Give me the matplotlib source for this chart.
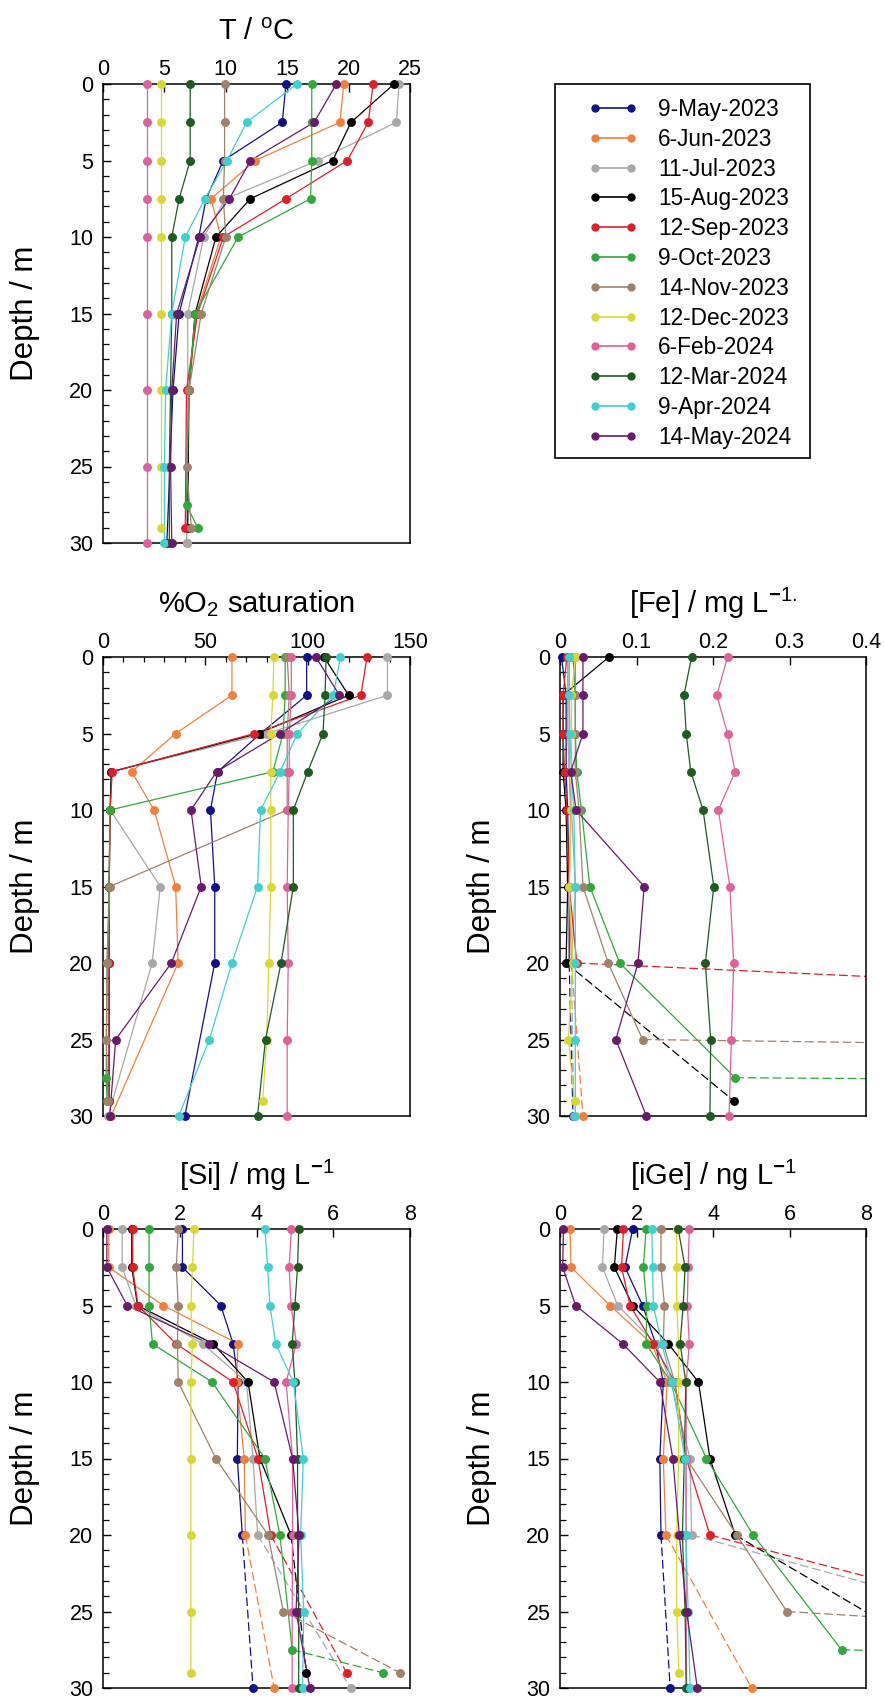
import numpy as np
import matplotlib
matplotlib.use('Agg')
import matplotlib.pyplot as plt
from matplotlib.ticker import MultipleLocator, FuncFormatter
from matplotlib.patches import Rectangle
from matplotlib.lines import Line2D

plt.rcParams['font.family'] = ['Liberation Sans', 'DejaVu Sans']
plt.rcParams['mathtext.fontset'] = 'custom'
plt.rcParams['mathtext.rm'] = 'Liberation Sans'
plt.rcParams['mathtext.it'] = 'Liberation Sans:italic'
plt.rcParams['mathtext.bf'] = 'Liberation Sans:bold'

# ---------------- data ----------------
DATES = ['9-May-2023', '6-Jun-2023', '11-Jul-2023', '15-Aug-2023', '12-Sep-2023',
         '9-Oct-2023', '14-Nov-2023', '12-Dec-2023', '6-Feb-2024', '12-Mar-2024',
         '9-Apr-2024', '14-May-2024']
COLORS = ['#10108C', '#F0803A', '#A8A8A8', '#000000', '#E01E2A', '#2EAA3A',
          '#A0826A', '#D8D830', '#E0609A', '#1E5A22', '#40D0D0', '#6A1A6A']

DEPTHS = [
    [0, 2.5, 5, 7.5, 10, 15, 20, 30],
    [0, 2.5, 5, 7.5, 10, 15, 20, 30],
    [0, 2.5, 5, 7.5, 10, 15, 20, 30],
    [0, 2.5, 5, 7.5, 10, 15, 20, 29],
    [0, 2.5, 5, 7.5, 10, 15, 20, 29],
    [0, 2.5, 5, 7.5, 10, 15, 20, 27.5, 29],
    [0, 2.5, 5, 7.5, 10, 15, 20, 25, 29],
    [0, 2.5, 5, 7.5, 10, 15, 20, 25, 29],
    [0, 2.5, 5, 7.5, 10, 15, 20, 25, 30],
    [0, 2.5, 5, 7.5, 10, 15, 20, 25, 30],
    [0, 2.5, 5, 7.5, 10, 15, 20, 25, 30],
    [0, 2.5, 5, 7.5, 10, 15, 20, 25, 30],
]

T_VALUES = [
    [14.9, 14.6, 9.8, 8.4, 7.8, 6.2, 5.7, 5.2],
    [19.6, 19.3, 12.4, 8.8, 9.6, 7.6, 7.0, 6.8],
    [24.1, 23.9, 17.5, 10.0, 8.2, 6.9, 6.9, 6.8],
    [23.7, 20.2, 18.7, 12.0, 9.2, 7.5, 7.0, 6.9],
    [22.0, 21.6, 19.9, 14.9, 9.8, 7.7, 6.8, 6.7],
    [17.0, 17.0, 17.0, 16.9, 11.0, 7.5, 7.0, 6.8, 7.7],
    [9.9, 9.9, 9.9, 9.8, 10.0, 8.0, 7.0, 6.8, 7.2],
    [4.7, 4.7, 4.7, 4.7, 4.7, 4.7, 4.7, 4.7, 4.7],
    [3.6, 3.6, 3.6, 3.6, 3.6, 3.6, 3.6, 3.6, 3.6],
    [7.1, 7.1, 7.1, 6.2, 5.6, 5.6, 5.5, 5.4, 5.4],
    [15.8, 11.7, 10.1, 8.3, 6.7, 5.6, 5.1, 5.0, 5.0],
    [19.0, 17.2, 12.0, 10.3, 7.9, 6.0, 5.6, 5.5, 5.6],
]

O2_VALUES = [
    [99.5, 99.5, 77, 56, 52.5, 54.6, 54.6, 40],
    [63, 63, 35.5, 14, 25, 35.5, 36.7, 4],
    [139, 139, 80, 4, 3.5, 28, 24, 2.5],
    [108, 120, 76, 4, 3.5, 3, 3, 3],
    [129, 126, 74, 4.5, 3.5, 3, 3, 3],
    [89, 89, 88, 83, 3.3, 3, 2, 1.6, 2.0],
    [90, 91, 90, 90, 90, 3.3, 2, 1.6, 2.4],
    [83.5, 83, 82, 82, 82, 82, 81, 80, 78],
    [92, 92, 91, 91, 90.5, 90, 90.5, 90, 90],
    [109, 108.5, 107.5, 100, 93, 93, 87, 79.4, 75.5],
    [116, 112.5, 95, 86.5, 77, 75.5, 63, 52, 37],
    [104, 115.5, 86.5, 55.5, 43, 48, 33.4, 6.2, 3.3],
]

FE_VALUES = [
    [0.002, 0.008, 0.008, 0.008, 0.010, 0.012, 0.012, 0.017],
    [0.012, 0.012, 0.012, 0.012, 0.014, 0.012, 0.015, 0.030],
    [0.010, 0.010, 0.010, 0.012, 0.015, 0.020, 0.015, 0.018],
    [0.064, 0.004, 0.004, 0.004, 0.008, 0.010, 0.008, 0.227],
    [0.009, 0.004, 0.004, 0.006, 0.009, 0.012, 0.022, 3.9],
    [0.017, 0.020, 0.020, 0.022, 0.028, 0.039, 0.078, 0.229, 5.0],
    [0.020, 0.020, 0.020, 0.020, 0.025, 0.030, 0.063, 0.108, 6.0],
    [0.020, 0.015, 0.015, 0.015, 0.015, 0.012, 0.017, 0.011, 0.019],
    [0.219, 0.205, 0.219, 0.229, 0.207, 0.222, 0.227, 0.224, 0.221],
    [0.172, 0.162, 0.165, 0.171, 0.187, 0.201, 0.190, 0.197, 0.196],
    [0.012, 0.012, 0.013, 0.015, 0.018, 0.020, 0.020, 0.020, 0.020],
    [0.030, 0.030, 0.030, 0.014, 0.021, 0.110, 0.102, 0.073, 0.113],
]

SI_VALUES = [
    [2.07, 2.07, 3.07, 3.39, 3.52, 3.50, 3.63, 3.91],
    [0.15, 0.15, 1.57, 3.52, 3.48, 3.68, 3.71, 4.46],
    [0.50, 0.50, 0.85, 2.60, 3.74, 3.91, 4.03, 6.45],
    [0.75, 0.75, 0.90, 2.87, 3.78, 4.09, 4.90, 5.30],
    [0.78, 0.77, 0.91, 1.90, 3.39, 4.04, 4.37, 6.35],
    [1.20, 1.20, 1.20, 1.29, 2.84, 4.22, 4.61, 4.93, 7.29],
    [1.96, 1.91, 1.96, 1.94, 1.96, 2.94, 4.30, 4.70, 7.74],
    [2.37, 2.33, 2.29, 2.33, 2.29, 2.29, 2.29, 2.29, 2.29],
    [4.91, 4.85, 4.90, 5.04, 4.77, 4.94, 4.94, 4.93, 4.93],
    [5.10, 5.07, 5.00, 4.93, 5.00, 5.07, 5.07, 5.10, 5.10],
    [4.22, 4.29, 4.35, 4.50, 4.96, 5.22, 5.15, 5.23, 5.20],
    [0.10, 0.10, 0.63, 2.77, 4.46, 4.94, 5.11, 5.03, 5.39],
]

GE_VALUES = [
    [1.90, 1.70, 2.16, 2.50, 2.70, 2.61, 2.64, 2.88],
    [0.26, 0.29, 1.31, 2.40, 2.80, 2.70, 2.77, 5.01],
    [1.15, 1.11, 1.51, 2.50, 2.90, 3.40, 3.44, 18.0],
    [1.50, 1.42, 1.90, 2.83, 3.62, 3.92, 4.58, 10.7],
    [1.66, 1.61, 1.83, 2.44, 3.00, 3.30, 3.92, 17.5],
    [2.25, 2.18, 2.27, 2.25, 2.90, 3.83, 5.05, 7.36, 30.0],
    [2.64, 2.64, 2.73, 2.70, 3.00, 3.30, 4.62, 5.93, 32.0],
    [3.05, 3.05, 3.05, 3.10, 3.10, 3.10, 3.05, 3.05, 3.11],
    [3.38, 3.35, 3.33, 3.38, 3.30, 3.30, 3.30, 3.30, 3.31],
    [3.09, 3.27, 3.22, 3.14, 3.29, 3.25, 3.20, 3.27, 3.30],
    [2.40, 2.42, 2.44, 2.66, 2.92, 3.27, 3.29, 3.35, 3.40],
    [0.09, 0.07, 0.41, 1.64, 2.61, 2.95, 3.12, 3.31, 3.59],
]

TITLES = [r'T / $^{\mathrm{o}}$C', r'%O$_2$ saturation', r'[Fe] / mg L$^{\mathbf{-}\mathrm{1.}}$',
          r'[Si] / mg L$^{\mathbf{-}\mathrm{1}}$', r'[iGe] / ng L$^{\mathbf{-}\mathrm{1}}$']

# ---------------- layout ----------------
W, H = 884, 1698
fig = plt.figure(figsize=(W / 100, H / 100), dpi=100)


def px_axes(x0, y0, x1, y1):
    return fig.add_axes([x0 / W, 1 - y1 / H, (x1 - x0) / W, (y1 - y0) / H])


panels = [
    (T_VALUES, (103, 84, 410, 543), (0, 25), 5, None, TITLES[0], False),
    (O2_VALUES, (103, 657, 410, 1116), (0, 150), 50, 10, TITLES[1], False),
    (FE_VALUES, (560, 657, 866, 1116), (0, 0.4), 0.1, None, TITLES[2], True),
    (SI_VALUES, (103, 1229, 410, 1688), (0, 8), 2, None, TITLES[3], True),
    (GE_VALUES, (560, 1229, 866, 1688), (0, 8), 2, None, TITLES[4], True),
]

fmt = FuncFormatter(lambda v, p: '%g' % round(v, 6))

for vals, rect, xlim, major, minor, title, dashed in panels:
    ax = px_axes(*rect)
    for i in range(len(DATES)):
        d = np.array(DEPTHS[i], dtype=float)
        v = np.array(vals[i], dtype=float)
        c = COLORS[i]
        if dashed and i < 7:
            ax.plot(v[:-1], d[:-1], '-', color=c, lw=0.9, zorder=2)
            ax.plot(v[-2:], d[-2:], color=c, lw=0.9, ls=(0, (7, 3)), zorder=2)
        else:
            ax.plot(v, d, '-', color=c, lw=0.9, zorder=2)
        inside = (v >= xlim[0]) & (v <= xlim[1])
        ax.plot(v[inside], d[inside], 'o', color=c, mec=c, ms=5.4,
                clip_on=False, zorder=3)

    ax.set_xlim(*xlim)
    ax.set_ylim(30, 0)
    ax.xaxis.set_ticks_position('top')
    ax.xaxis.set_major_locator(MultipleLocator(major))
    if minor:
        ax.xaxis.set_minor_locator(MultipleLocator(minor))
    ax.xaxis.set_major_formatter(fmt)
    ax.yaxis.set_major_locator(MultipleLocator(5))
    ax.yaxis.set_minor_locator(MultipleLocator(1))
    ax.yaxis.set_major_formatter(fmt)
    ax.tick_params(axis='x', which='both', direction='in', top=True, bottom=False,
                   labeltop=True, labelbottom=False, labelsize=15.5, pad=3)
    ax.tick_params(axis='x', which='major', length=6, width=1)
    ax.tick_params(axis='x', which='minor', length=3.5, width=0.9)
    ax.tick_params(axis='y', which='both', direction='in', left=True, right=False,
                   labelsize=15.5, pad=7)
    ax.tick_params(axis='y', which='major', length=6, width=1)
    ax.tick_params(axis='y', which='minor', length=4.5, width=0.9)
    for s in ax.spines.values():
        s.set_linewidth(1.1)
        s.set_color('black')
    ax.text(-0.254, 0.5, 'Depth / m', rotation=90, ha='center', va='center',
            fontsize=22.5, transform=ax.transAxes)
    ax.annotate(title, xy=(0.5, 1), xycoords='axes fraction', xytext=(0, 32),
                textcoords='offset points', ha='center', va='baseline', fontsize=21)

# ---------------- legend ----------------
handles = [Line2D([0], [0], color=c, lw=1.2, marker='o', ms=5, mec=c) for c in COLORS]
fig.legend(handles, DATES, loc='upper left', bbox_to_anchor=(588 / W, 1 - 98 / H),
           frameon=False, borderpad=0, borderaxespad=0, handlelength=2.2,
           handletextpad=0.9, labelspacing=0.30, fontsize=16.3, numpoints=2)
fig.add_artist(Rectangle((555 / W, 1 - 458 / H), 255 / W, 374 / H,
                         transform=fig.transFigure, fill=False, lw=1.2, ec='black'))

fig.savefig('out.png', dpi=100)
